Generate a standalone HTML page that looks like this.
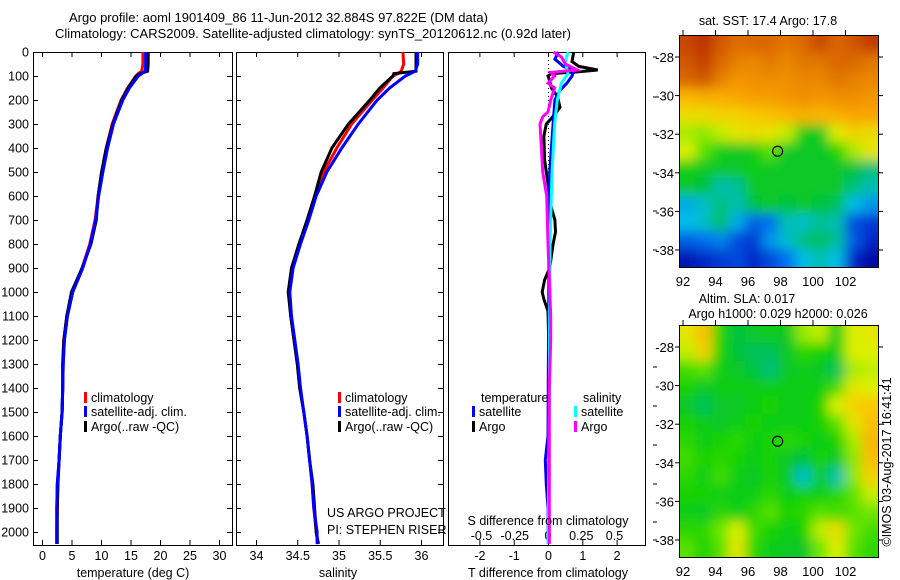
<!DOCTYPE html>
<html><head><meta charset="utf-8">
<style>
html,body{margin:0;padding:0;background:#fff;}
svg{display:block;font-family:"Liberation Sans",sans-serif;}
text{font-size:12.5px;fill:#000;}
</style></head>
<body>
<svg id="fig" width="900" height="580" viewBox="0 0 900 580" xmlns="http://www.w3.org/2000/svg">
<text x="69" y="22" style="font-size:13px">Argo profile: aoml 1901409_86 11-Jun-2012 32.884S 97.822E (DM data)</text>
<text x="55" y="38" style="font-size:13px">Climatology: CARS2009. Satellite-adjusted climatology: synTS_20120612.nc (0.92d later)</text>
</svg>
<script>
// ---------- DATA ----------
const depthTicks=[0,100,200,300,400,500,600,700,800,900,1000,1100,1200,1300,1400,1500,1600,1700,1800,1900,2000];
const tempTicks=[0,5,10,15,20,25,30];
const salTicks=[34,34.5,35,35.5,36];
const salTickLabels=['34','34.5','35','35.5','36'];
const tdiffTicks=[-2,-1,0,1,2];
const sdiffTicks=[-0.5,-0.25,0,0.25,0.5];
const sdiffTickLabels=['-0.5','-0.25','0','0.25','0.5'];

const profDepth=[0,50,80,90,100,150,200,300,400,500,600,700,800,900,1000,1100,1200,1300,1400,1500,1600,1700,1800,1900,2000,2050];
const tempClim=[17.1,17.1,16.9,16.3,15.9,14.5,13.4,11.9,10.9,10.1,9.5,9.0,8.1,6.8,5.1,4.2,3.7,3.5,3.5,3.4,3.1,2.9,2.7,2.6,2.5,2.5];
const tempSat =[17.6,17.6,17.5,16.9,16.3,14.8,13.7,12.1,11.1,10.3,9.6,9.1,8.2,6.9,5.2,4.3,3.8,3.6,3.5,3.4,3.1,2.9,2.6,2.5,2.5,2.5];
const tempArgo=[18.0,18.0,17.9,16.6,16.0,14.6,13.5,12.0,10.9,10.1,9.5,9.2,8.3,6.8,5.0,4.2,3.7,3.5,3.5,3.4,3.1,2.9,2.7,2.6,2.6,2.6];
const salClim=[35.78,35.79,35.76,35.72,35.66,35.54,35.41,35.16,34.98,34.82,34.72,34.63,34.53,34.44,34.40,34.42,34.46,34.50,34.53,34.58,34.62,34.65,34.68,34.70,34.73,34.76];
const salSat =[35.96,35.96,35.93,35.87,35.81,35.62,35.47,35.24,35.04,34.86,34.73,34.64,34.54,34.45,34.41,34.43,34.47,34.51,34.54,34.58,34.62,34.65,34.68,34.70,34.74,34.74];
const salArgo=[35.94,35.94,35.94,35.67,35.66,35.50,35.38,35.12,34.92,34.79,34.71,34.62,34.52,34.43,34.39,34.42,34.46,34.50,34.53,34.58,34.62,34.65,34.69,34.71,34.73,34.75];

const dArgoTDepth=[0,40,60,75,82,90,100,120,150,180,200,230,260,300,350,450,550,650,700,750,800,900,950,1000,1030,1080,1200,1500,2050];
const dArgoT=[0.75,0.7,0.9,1.45,0.9,0.1,0.0,0.05,0.1,0.25,0.3,0.35,0.2,-0.05,-0.12,-0.1,0.0,0.1,0.2,0.22,0.15,0.05,-0.1,-0.17,-0.12,0.0,0.02,0.02,0.02];
const dSatTDepth=[0,30,60,80,100,130,160,200,300,500,800,1600,1700,1800,1900,2050];
const dSatT=[0.3,0.2,0.45,0.75,0.7,0.55,0.35,0.2,0.15,0.05,0.03,0.0,-0.08,-0.05,0.0,0.0];
const dSatSDepth=[0,40,90,130,200,300,500,800,1500,2050];
const dSatS=[0.15,0.13,0.15,0.1,0.07,0.05,0.03,0.015,0.01,0.0];
const dArgoSDepth=[0,20,50,75,85,100,130,150,200,250,270,300,400,500,600,800,1100,1200,1400,2050];
const dArgoS=[0.04,0.1,0.13,0.22,0.02,0.05,0.0,0.05,0.02,0.0,-0.04,-0.06,-0.05,-0.04,-0.01,0.0,0.02,0.02,0.01,0.01];

const mapLonTicks=[92,94,96,98,100,102];
const mapLatTicks=[-28,-30,-32,-34,-36,-38];
const sstGrid=[
[92,95,90,87,88,88,86,88,92,88,90,94],
[90,93,88,85,84,86,84,86,86,88,88,86],
[88,90,85,80,82,82,82,84,84,86,85,84],
[72,74,74,76,78,78,80,82,80,82,82,80],
[64,64,66,66,68,70,72,74,72,74,76,76],
[56,54,58,62,64,62,58,42,40,60,66,64],
[60,50,42,40,42,50,40,40,40,44,56,62],
[42,40,40,40,42,40,40,40,40,40,38,34],
[40,38,30,32,40,40,40,40,40,40,34,30],
[24,28,34,30,38,40,38,40,38,36,26,22],
[26,28,36,24,16,18,30,28,32,30,14,12],
[16,18,20,14,12,22,28,34,36,32,16,10],
[6,10,12,14,10,14,18,26,30,26,10,4]];
const slaGrid=[
[62,70,45,38,40,42,40,55,58,42,60,62],
[58,66,44,38,36,36,40,46,44,42,60,60],
[48,50,42,40,38,34,40,42,40,36,56,58],
[44,40,42,42,42,42,42,42,42,48,62,60],
[40,36,40,40,42,44,42,42,44,60,66,68],
[44,42,40,42,44,42,42,42,44,50,62,70],
[46,42,44,46,42,44,46,44,42,44,56,72],
[48,44,46,44,42,44,40,38,44,40,54,70],
[46,42,48,42,40,44,40,28,42,30,54,66],
[44,44,42,42,42,46,42,44,42,46,50,58],
[42,40,46,42,46,50,44,46,50,48,50,52],
[46,46,52,60,48,44,42,44,58,64,52,48],
[50,44,50,62,46,42,40,40,52,60,50,46]];
const floatLon=97.822, floatLat=-32.884;

// ---------- helpers ----------
const NS='http://www.w3.org/2000/svg';
const svg=document.getElementById('fig');
function mk(tag,attrs,parent){const e=document.createElementNS(NS,tag);for(const k in attrs)e.setAttribute(k,attrs[k]);(parent||svg).appendChild(e);return e;}
function txt(x,y,s,anchor,parent,size){const t=mk('text',{x:x,y:y,'text-anchor':anchor||'start'},parent);if(size)t.style.fontSize=size+'px';t.textContent=s;return t;}
const yD=d=>52+0.24*d;
const PT=52, PB=545;

function panel(x0,x1,name){
  const r=mk('rect',{x:x0+0.5,y:PT+0.5,width:x1-x0,height:PB-PT,fill:'none',stroke:'#000','stroke-width':1});
  
  
}
function line(xs,ds,xf,color,name){
  const pts=xs.map((v,i)=>xf(v).toFixed(1)+','+yD(ds[i]).toFixed(1)).join(' ');
  const p=mk('polyline',{points:pts,fill:'none',stroke:color,'stroke-width':3,'stroke-linejoin':'miter'});
  
  
}
function depthAxis(xL,xR,labels){
  depthTicks.forEach(d=>{
    const y=yD(d)+0.5;
    mk('line',{x1:xL,x2:xL+5,y1:y,y2:y,stroke:'#000'});
    mk('line',{x1:xR-5,x2:xR,y1:y,y2:y,stroke:'#000'});
    if(labels){const t=txt(xL-4,y+4,String(d),'end');}
  });
}
function xTicks(vals,labs,xf,labelY,name){
  vals.forEach((v,i)=>{
    const x=xf(v)+0.5;
    mk('line',{x1:x,x2:x,y1:PT,y2:PT+5,stroke:'#000'});
    mk('line',{x1:x,x2:x,y1:PB-5,y2:PB,stroke:'#000'});
    if(labelY){const t=txt(x,labelY,labs[i],'middle');}
  });
}
function legendEntry(x,y,color,label,name){
  mk('rect',{x:x,y:y-10,width:3,height:11,fill:color});
  const t=txt(x+7,y,label);
  
  
}

// ---------- Panel 1 ----------
const xT=v=>42+5.9*v;
panel(33,232,'temperature-panel');
depthAxis(33,232,true);
xTicks(tempTicks,tempTicks.map(String),xT,560,'temperature-tick-label');
line(tempClim,profDepth,xT,'#f00','temp-climatology-line');
line(tempSat,profDepth,xT,'#00f','temp-satellite-line');
line(tempArgo,profDepth,xT,'#000','temp-argo-line');
line(tempSat,profDepth,xT,'#00f','temp-satellite-line-top');
legendEntry(84,402,'#f00','climatology','legend-climatology');
legendEntry(84,416,'#00f','satellite-adj. clim.','legend-satellite');
legendEntry(84,431,'#000','Argo(..raw -QC)','legend-argo');
{const t=txt(133,577,'temperature (deg C)','middle');}

// ---------- Panel 2 ----------
const xS=v=>256+82.5*(v-34);
panel(236,443,'salinity-panel');
depthAxis(236,443,false);
xTicks(salTicks,salTickLabels,xS,560,'salinity-tick-label');
line(salClim,profDepth,xS,'#f00','sal-climatology-line');
line(salArgo,profDepth,xS,'#000','sal-argo-line');
line(salSat,profDepth,xS,'#00f','sal-satellite-line');
legendEntry(338,402,'#f00','climatology','legend-climatology-2');
legendEntry(338,416,'#00f','satellite-adj. clim.','legend-satellite-2');
legendEntry(338,431,'#000','Argo(..raw -QC)','legend-argo-2');
{const t=txt(327,517,'US ARGO PROJECT');}
{const t=txt(327,534,'PI: STEPHEN RISER');}
{const t=txt(338,577,'salinity','middle');}

// ---------- Panel 3 ----------
const xTd=v=>548+34.3*v;
const xSd=v=>548+133*v;
panel(448,645,'difference-panel');
xTicks(tdiffTicks,tdiffTicks.map(String),xTd,560,'t-diff-tick-label');
sdiffTicks.forEach((v,i)=>{const t=txt(xSd(v),540,sdiffTickLabels[i],'middle');});
mk('line',{x1:548.5,x2:548.5,y1:PT,y2:PB,stroke:'#000','stroke-dasharray':'1,3'});
line(dArgoT,dArgoTDepth,xTd,'#000','t-diff-argo-line');
line(dSatT,dSatTDepth,xTd,'#00f','t-diff-satellite-line');
line(dSatS,dSatSDepth,xSd,'#0ff','s-diff-satellite-line');
line(dArgoS,dArgoSDepth,xSd,'#f0f','s-diff-argo-line');
{const t=txt(481,402,'temperature');}
{const t=txt(583,402,'salinity');}
legendEntry(472,416,'#00f','satellite','legend-t-satellite');
legendEntry(472,431,'#000','Argo','legend-t-argo');
legendEntry(574,416,'#0ff','satellite','legend-s-satellite');
legendEntry(574,431,'#f0f','Argo','legend-s-argo');
{const t=txt(548,525,'S difference from climatology','middle');}
{const t=txt(548,577,'T difference from climatology','middle');}
[57,97,134,173,211,250,367,406,445,484,522,540].forEach(y=>mk('line',{x1:653,x2:657,y1:y,y2:y,stroke:'#000'}));

// ---------- Maps ----------
const stops=[[0,[0,0,140]],[10,[0,40,200]],[18,[0,110,240]],[26,[0,190,230]],[32,[0,190,150]],[38,[0,195,60]],[44,[20,210,0]],[52,[110,230,0]],[60,[220,240,0]],[68,[250,200,0]],[76,[250,165,0]],[84,[235,135,0]],[92,[200,70,0]],[100,[170,20,0]]];
function cmap(v){for(let i=1;i<stops.length;i++){if(v<=stops[i][0]){const a=stops[i-1],b=stops[i];const f=(v-a[0])/(b[0]-a[0]);const c=a[1].map((x,k)=>Math.round(x+(b[1][k]-x)*f));return 'rgb('+c.join(',')+')';}}return 'rgb(170,20,0)';}
const defs=mk('defs',{});
const flt=mk('filter',{id:'blur',x:'-10%',y:'-10%',width:'120%',height:'120%'},defs);
mk('feGaussianBlur',{stdDeviation:6},flt);
function drawMap(top,grid,name,clipId,headers){
  const L=679,R=878,B=top+232,W=R-L,H=B-top;
  const cp=mk('clipPath',{id:clipId},defs);mk('rect',{x:L,y:top,width:W,height:H},cp);
  const outer=mk('g',{'clip-path':'url(#'+clipId+')'});
  
  
  const inner=mk('g',{filter:'url(#blur)'},outer);
  const nr=grid.length,nc=grid[0].length,cw=W/nc,ch=H/nr;
  grid.forEach((row,r)=>row.forEach((v,c)=>{
    let x=L+c*cw,y=top+r*ch,w=cw+0.6,h=ch+0.6;
    if(c===0){x-=20;w+=20;} if(c===nc-1){w+=20;}
    if(r===0){y-=20;h+=20;} if(r===nr-1){h+=20;}
    const cell=mk('rect',{x:x,y:y,width:w,height:h,fill:cmap(v)},inner);
    
    
  }));
  mk('rect',{x:L+0.5,y:top+0.5,width:W,height:H,fill:'none',stroke:'#000'});
  const xl=lon=>683+16.25*(lon-92);
  const yl=lat=>top+22+19.3*(-28-lat);
  mapLonTicks.forEach(lon=>{const x=xl(lon);mk('line',{x1:x,x2:x,y1:top-5,y2:top,stroke:'#000'});const t=txt(x,top+251,String(lon),'middle');t.style.fontSize='13px';});
  mapLatTicks.forEach(lat=>{const y=yl(lat);mk('line',{x1:R,x2:R+5,y1:y,y2:y,stroke:'#000'});mk('line',{x1:L-4,x2:L,y1:y,y2:y,stroke:'#000'});const t=txt(674,y+5,String(lat),'end');t.style.fontSize='13px';});
  const c=mk('circle',{cx:xl(floatLon),cy:yl(floatLat),r:5,fill:'none',stroke:'#000','stroke-width':1.2});
  
  
  headers.forEach(h=>{const t=txt(h[0],h[1],h[2],'middle');});
}
drawMap(35,sstGrid,'sst-map','clip1',[[768,25,'sat. SST: 17.4  Argo: 17.8','sst-map-title']]);
drawMap(325,slaGrid,'sla-map','clip2',[[747,303,'Altim. SLA: 0.017','sla-map-title'],[778,318,'Argo h1000: 0.029 h2000: 0.026','sla-map-subtitle']]);
{const t=txt(0,0,'©IMOS 03-Aug-2017 16:41:41','middle');t.setAttribute('transform','translate(891,462) rotate(-90)');}
</script>
</body></html>
